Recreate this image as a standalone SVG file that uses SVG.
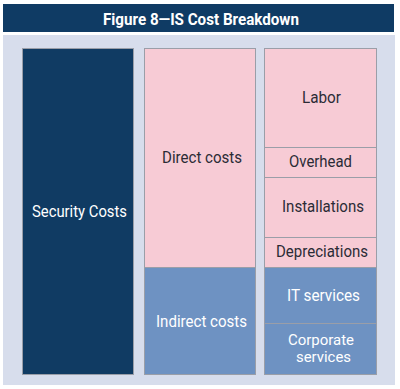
<svg xmlns="http://www.w3.org/2000/svg" width="400" height="389" viewBox="0 0 400 389">
<style>
.box{stroke:#9a9ea8;stroke-width:1}
.pink{fill:#f7cbd5}
.mid{fill:#6e92c2}
.dark{fill:#103b63}
.t{font-family:Roboto,"Liberation Sans",sans-serif;font-size:16px;text-anchor:middle}
.dt{fill:#2b2b35}
.wt{fill:#ffffff}
</style>
<rect x="0" y="0" width="400" height="389" fill="#ffffff"/>
<rect x="3" y="4" width="391" height="28" fill="#0f3b64"/>
<text x="201" y="25" font-family="Roboto,'Liberation Sans',sans-serif" font-weight="bold" font-size="17" fill="#ffffff" text-anchor="middle" textLength="196" lengthAdjust="spacingAndGlyphs">Figure 8—IS Cost Breakdown</text>
<rect x="3" y="35" width="392" height="350" fill="#d7ddec"/>
<g id="security">
<rect class="box dark" x="22.5" y="48.5" width="111" height="326"/>
<text class="t wt" x="79.5" y="217" textLength="95" lengthAdjust="spacingAndGlyphs">Security Costs</text>
</g>
<g id="direct">
<rect class="box pink" x="144.5" y="48.5" width="111" height="219"/>
<text class="t dt" x="202" y="163" textLength="80" lengthAdjust="spacingAndGlyphs">Direct costs</text>
</g>
<g id="indirect">
<rect class="box mid" x="144.5" y="267.5" width="111" height="107"/>
<text class="t wt" x="201.5" y="327" textLength="91" lengthAdjust="spacingAndGlyphs">Indirect costs</text>
</g>
<g id="labor">
<rect class="box pink" x="264.5" y="48.5" width="112" height="99"/>
<text class="t dt" x="321.5" y="103" textLength="39" lengthAdjust="spacingAndGlyphs">Labor</text>
</g>
<g id="overhead">
<rect class="box pink" x="264.5" y="147.5" width="112" height="30"/>
<text class="t dt" x="320.5" y="167" textLength="63" lengthAdjust="spacingAndGlyphs">Overhead</text>
</g>
<g id="installations">
<rect class="box pink" x="264.5" y="177.5" width="112" height="60"/>
<text class="t dt" x="323" y="212" textLength="82" lengthAdjust="spacingAndGlyphs">Installations</text>
</g>
<g id="depreciations">
<rect class="box pink" x="264.5" y="237.5" width="112" height="30"/>
<text class="t dt" x="322" y="257" textLength="92" lengthAdjust="spacingAndGlyphs">Depreciations</text>
</g>
<g id="itservices">
<rect class="box mid" x="264.5" y="267.5" width="112" height="56"/>
<text class="t wt" x="323.5" y="301" textLength="73" lengthAdjust="spacingAndGlyphs">IT services</text>
</g>
<g id="corporate">
<rect class="box mid" x="264.5" y="323.5" width="112" height="51"/>
<text class="t wt" x="321" y="345" font-size="15" style="font-size:15px" textLength="66" lengthAdjust="spacingAndGlyphs">Corporate</text>
<text class="t wt" x="323.5" y="362" font-size="15" style="font-size:15px" textLength="55" lengthAdjust="spacingAndGlyphs">services</text>
</g>
<g id="connectors"></g>
</svg>
